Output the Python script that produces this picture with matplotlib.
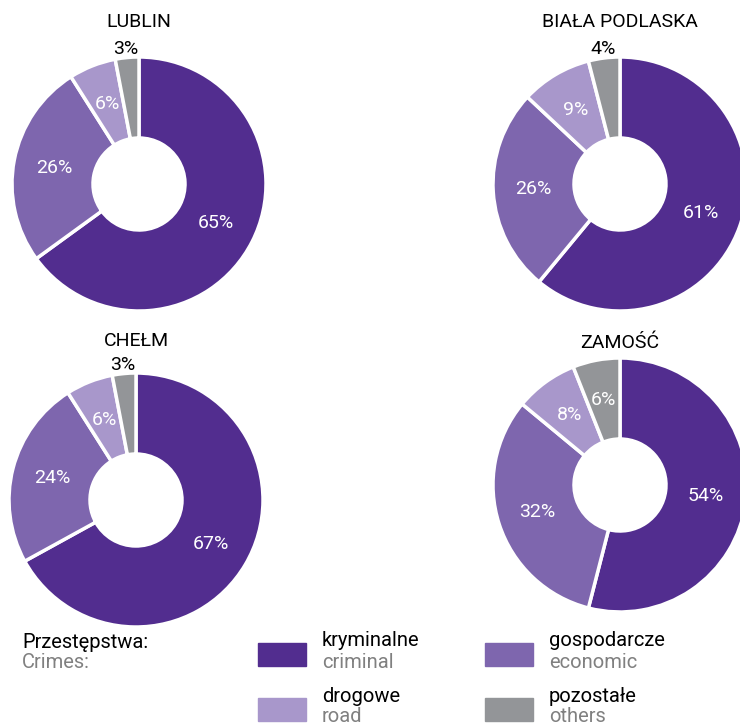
import matplotlib
matplotlib.use("Agg")
import matplotlib.pyplot as plt
from matplotlib.patches import Rectangle
import numpy as np

plt.rcParams['font.family'] = ['Roboto', 'DejaVu Sans']

regions = ["LUBLIN", "BIAŁA PODLASKA", "CHEŁM", "ZAMOŚĆ"]
categories_pl = ["kryminalne", "gospodarcze", "drogowe", "pozostałe"]
categories_en = ["criminal", "economic", "road", "others"]
values = {
    "LUBLIN": [65, 26, 6, 3],
    "BIAŁA PODLASKA": [61, 26, 9, 4],
    "CHEŁM": [67, 24, 6, 3],
    "ZAMOŚĆ": [54, 32, 8, 6],
}
colors = ["#522d8f", "#7e66ae", "#a897cb", "#939598"]

W, H = 740, 727
fig = plt.figure(figsize=(W / 100, H / 100), dpi=100)

def fx(x):
    return x / W

def fy(y):
    return 1 - y / H

R = 127
inner = 46
centers = {
    "LUBLIN": (139, 184),
    "BIAŁA PODLASKA": (620, 184),
    "CHEŁM": (136, 500),
    "ZAMOŚĆ": (620, 485),
}
title_y = {"LUBLIN": 22, "BIAŁA PODLASKA": 22, "CHEŁM": 341, "ZAMOŚĆ": 343}

FS = 14
for reg in regions:
    cx, cy = centers[reg]
    ax = fig.add_axes([fx(cx - R), fy(cy + R), 2 * R / W, 2 * R / H])
    vals = values[reg]
    wedges, _ = ax.pie(vals, colors=colors, startangle=90, counterclock=False,
                       radius=1, wedgeprops=dict(width=1 - inner / R, edgecolor='white', linewidth=2.5))
    ax.set_xlim(-1, 1)
    ax.set_ylim(-1, 1)
    ax.set_aspect('equal')
    ax.axis('off')
    mid_r = (1 + inner / R) / 2
    for w, v in zip(wedges, vals):
        ang = np.deg2rad((w.theta1 + w.theta2) / 2)
        if v <= 4:
            r = 1.07
            col = 'black'
        else:
            r = mid_r
            col = 'white'
        ax.text(r * np.cos(ang), r * np.sin(ang), f"{v}%", ha='center', va='center',
                color=col, fontsize=FS, clip_on=False)
    fig.text(fx(cx), fy(title_y[reg]), reg, ha='center', va='center', fontsize=FS, color='black')

# legend
LFS = 14.5
fig.text(fx(22), fy(643), "Przestępstwa:", ha='left', va='center', fontsize=LFS, color='black')
fig.text(fx(22), fy(663), "Crimes:", ha='left', va='center', fontsize=LFS, color='#808080')

leg_pos = [(258, 643), (485, 643), (258, 698), (485, 698)]
for (sx, sy), c, pl, en in zip(leg_pos, colors, categories_pl, categories_en):
    fig.patches.append(Rectangle((fx(sx), fy(sy + 23)), 48 / W, 23 / H,
                                 transform=fig.transFigure, color=c, figure=fig))
    fig.text(fx(sx + 64), fy(sy - 2), pl, ha='left', va='center', fontsize=LFS, color='black')
    fig.text(fx(sx + 64), fy(sy + 19), en, ha='left', va='center', fontsize=LFS, color='#808080')

fig.savefig("out.png", dpi=100, facecolor='white')
